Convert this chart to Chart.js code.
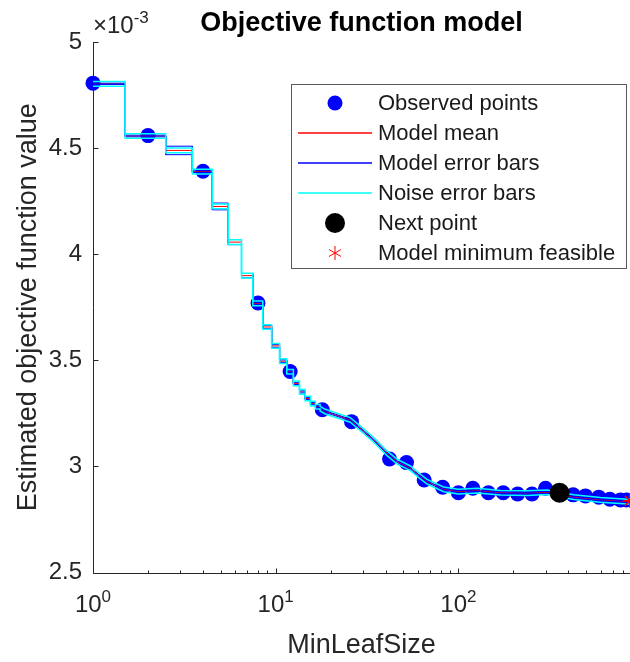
<!DOCTYPE html>
<html>
<head>
<meta charset="utf-8">
<script src="https://cdn.jsdelivr.net/npm/chart.js@4.4.1/dist/chart.umd.min.js"></script>
<style>
  html, body { margin: 0; padding: 0; background: #fff; overflow: hidden; }
  #wrap { width: 630px; height: 662px; }
</style>
</head>
<body>
<div id="wrap"><canvas id="chart"></canvas></div>
<script>
// objective values are in units of 1e-3 (see exponent label)
const yExponent = '-3';

// observed evaluations
const obsX = [1, 2, 4, 8, 12, 18, 26, 42, 52, 65, 82, 100, 120, 146, 176, 211, 253, 300, 425, 496, 587, 675, 772, 833];
const obsY = [4.806, 4.559, 4.391, 3.770, 3.447, 3.267, 3.211, 3.035, 3.018, 2.936, 2.902, 2.876, 2.897, 2.876,
              2.876, 2.870, 2.870, 2.897, 2.866, 2.861, 2.855, 2.845, 2.842, 2.842];

// model on the integer part of the range (constant on each integer)
const stepX = [1, 2, 3, 4, 5, 6, 7, 8, 9, 10, 11, 12, 13, 14, 15, 16, 17];
const stepMean = [4.803, 4.557, 4.489, 4.389, 4.225, 4.057, 3.899, 3.768, 3.657, 3.568, 3.496, 3.446, 3.391,
                  3.351, 3.320, 3.296, 3.281];
const stepModelErr = [0.003, 0.004, 0.020, 0.004, 0.016, 0.012, 0.010, 0.004, 0.008, 0.007, 0.006, 0.004,
                      0.005, 0.005, 0.005, 0.005, 0.004];

// model on the upper part of the range
const curveX = [17.5, 18.7, 25.6, 29, 34.4, 40.7, 46.1, 54.6, 61.9, 67.4, 83, 100, 127, 170, 238, 306, 428, 599, 840, 870];
const curveMean = [3.272, 3.258, 3.219, 3.180, 3.125, 3.062, 3.023, 2.991, 2.952, 2.928, 2.892, 2.881, 2.886,
                   2.876, 2.874, 2.878, 2.855, 2.842, 2.834, 2.834];
const curveModelErr = 0.004;
const noiseErr = 0.011;

const nextX = [358];
const nextY = [2.876];
const minX = [868];
const minY = [2.838];

const xMin = 1, xMax = 870;
const yMin = 2.5, yMax = 5;
const xMajorTicks = [1, 10, 100];
const xMajorLabels = ['0', '1', '2'];
const xMinorTicks = [2, 3, 4, 5, 6, 7, 8, 9, 20, 30, 40, 50, 60, 70, 80, 90, 200, 300, 400, 500, 600, 700, 800];
const yTicks = [2.5, 3, 3.5, 4, 4.5, 5];

const FONT = '"Liberation Sans", Arial, Helvetica, sans-serif';
const axisColor = '#262626';
const RED = '#ff0000', BLUE = '#0000ff', CYAN = '#00ffff', BLACK = '#000000';

// build the step + curve polylines, shifted by k * error
function modelLine(k, stepErr, curveErr) {
  const pts = [];
  stepX.forEach((n, i) => {
    const e = stepErr ? stepErr[i] : 0;
    pts.push({x: Math.max(n - 0.5, xMin), y: stepMean[i] + k * e});
    pts.push({x: n + 0.5, y: stepMean[i] + k * e});
  });
  curveX.forEach((x, i) => pts.push({x: x, y: curveMean[i] + k * (curveErr || 0)}));
  return pts;
}
const noiseStep = stepX.map(() => noiseErr);

function lineSet(label, data, color, width, order) {
  return {label, data, borderColor: color, backgroundColor: color, borderWidth: width,
          pointRadius: 0, tension: 0, order: order};
}

// lower order is drawn on top
const datasets = [
  {label: 'Observed points', data: obsX.map((x, i) => ({x, y: obsY[i]})), showLine: false,
   pointRadius: 7.5, pointBackgroundColor: BLUE, pointBorderWidth: 0, borderColor: BLUE,
   backgroundColor: BLUE, clip: false, order: 6},
  lineSet('Model mean', modelLine(0), RED, 1, 4),
  lineSet('Model error bars', modelLine(1, stepModelErr, curveModelErr), BLUE, 1, 3),
  lineSet('', modelLine(-1, stepModelErr, curveModelErr), BLUE, 1, 3),
  lineSet('Noise error bars', modelLine(1, noiseStep, noiseErr), CYAN, 1.5, 2),
  lineSet('', modelLine(-1, noiseStep, noiseErr), CYAN, 1.5, 2),
  {label: 'Next point', data: nextX.map((x, i) => ({x, y: nextY[i]})), showLine: false,
   pointRadius: 10, pointBackgroundColor: BLACK, pointBorderWidth: 0, borderColor: BLACK,
   backgroundColor: BLACK, clip: false, order: 0},
  {label: 'Model minimum feasible', data: minX.map((x, i) => ({x, y: minY[i]})), showLine: false,
   pointStyle: 'star', pointRadius: 7, pointBorderColor: RED, pointBorderWidth: 1.5,
   borderColor: RED, backgroundColor: RED, clip: false, order: 0}
];

const legendLabels = ['Observed points', 'Model mean', 'Model error bars', 'Noise error bars', 'Next point',
                      'Model minimum feasible'];
const legendKinds = ['dot', 'line', 'line', 'line', 'bigdot', 'star'];
const legendColors = [BLUE, RED, BLUE, CYAN, BLACK, RED];

function drawPower(ctx, base, exp, x, baseline, size, align) {
  ctx.font = size + 'px ' + FONT;
  const bw = ctx.measureText(base).width;
  const sSize = Math.round(size * 0.72);
  ctx.font = sSize + 'px ' + FONT;
  const ew = ctx.measureText(exp).width;
  const left = align === 'center' ? x - (bw + ew) / 2 : x;
  ctx.textAlign = 'left';
  ctx.textBaseline = 'alphabetic';
  ctx.font = size + 'px ' + FONT;
  ctx.fillText(base, left, baseline);
  ctx.font = sSize + 'px ' + FONT;
  ctx.fillText(exp, left + bw, baseline - size * 0.42);
}

const decor = {
  id: 'decor',
  beforeDatasetsDraw(chart) {
    const {ctx, chartArea: a, scales: {x, y}} = chart;
    ctx.save();
    ctx.strokeStyle = axisColor;
    ctx.lineWidth = 1;
    ctx.beginPath();
    const L = Math.round(a.left) + 0.5, B = Math.round(a.bottom) + 0.5;
    ctx.moveTo(L, a.top);
    ctx.lineTo(L, B);
    ctx.lineTo(a.right, B);
    xMajorTicks.forEach(v => {
      const p = Math.round(x.getPixelForValue(v)) + 0.5;
      ctx.moveTo(p, B); ctx.lineTo(p, B - 5);
    });
    xMinorTicks.forEach(v => {
      const p = Math.round(x.getPixelForValue(v)) + 0.5;
      ctx.moveTo(p, B); ctx.lineTo(p, B - 3);
    });
    yTicks.forEach(v => {
      const p = Math.round(y.getPixelForValue(v)) + 0.5;
      ctx.moveTo(L, p); ctx.lineTo(L + 5, p);
    });
    ctx.stroke();
    ctx.restore();
  },
  afterDraw(chart) {
    const {ctx, chartArea: a, scales: {x}} = chart;
    ctx.save();
    ctx.fillStyle = axisColor;
    // x tick labels as powers of ten
    xMajorTicks.forEach((v, i) => drawPower(ctx, '10', xMajorLabels[i], x.getPixelForValue(v), 612, 24, 'center'));
    // exponent of the y axis
    drawPower(ctx, '\u00d710', yExponent, 93, 33, 24, 'left');
    // title
    ctx.fillStyle = '#000';
    ctx.font = 'bold 27px ' + FONT;
    ctx.textAlign = 'center';
    ctx.textBaseline = 'alphabetic';
    ctx.fillText('Objective function model', (a.left + a.right) / 2, 31);

    // legend
    const bx = 291.5, by = 84.5, bw = 335, bh = 184;
    ctx.fillStyle = '#fff';
    ctx.fillRect(bx, by, bw, bh);
    ctx.strokeStyle = '#5a5a5a';
    ctx.lineWidth = 1;
    ctx.strokeRect(bx, by, bw, bh);
    legendLabels.forEach((label, r) => {
      const cy = 103 + r * 30;
      const cx = 335;
      const col = legendColors[r];
      const kind = legendKinds[r];
      if (kind === 'star') {
        ctx.strokeStyle = col;
        ctx.lineWidth = 1;
        ctx.beginPath();
        for (let k = 0; k < 3; k++) {
          const ang = Math.PI / 2 + k * Math.PI / 3;
          ctx.moveTo(cx + 7 * Math.cos(ang), cy + 7 * Math.sin(ang));
          ctx.lineTo(cx - 7 * Math.cos(ang), cy - 7 * Math.sin(ang));
        }
        ctx.stroke();
      } else if (kind === 'line') {
        ctx.strokeStyle = col;
        ctx.lineWidth = 1.5;
        ctx.beginPath();
        ctx.moveTo(298, cy);
        ctx.lineTo(372, cy);
        ctx.stroke();
      } else {
        ctx.fillStyle = col;
        ctx.beginPath();
        ctx.arc(cx, cy, kind === 'dot' ? 7.5 : 10, 0, Math.PI * 2);
        ctx.fill();
      }
      ctx.fillStyle = '#1a1a1a';
      ctx.font = '22px ' + FONT;
      ctx.textAlign = 'left';
      ctx.textBaseline = 'middle';
      ctx.fillText(label, 378, cy + 1);
    });
    ctx.restore();
  }
};

Chart.defaults.font.family = FONT;
Chart.defaults.color = axisColor;

new Chart(document.getElementById('chart'), {
  type: 'line',
  data: {datasets: datasets},
  plugins: [decor],
  options: {
    responsive: true,
    maintainAspectRatio: false,
    animation: false,
    events: [],
    layout: {autoPadding: false, padding: {top: 42, right: 0, bottom: 0, left: 0}},
    plugins: {legend: {display: false}, tooltip: {enabled: false}, title: {display: false}},
    scales: {
      x: {
        type: 'logarithmic',
        min: xMin,
        max: xMax,
        grid: {display: false, drawTicks: false},
        border: {display: false},
        ticks: {display: false},
        title: {display: true, text: 'MinLeafSize', font: {size: 27}, color: axisColor,
                padding: {top: 0, bottom: 0}},
        afterFit(s) { s.height = 89.5; }
      },
      y: {
        type: 'linear',
        min: yMin,
        max: yMax,
        grid: {display: false, drawTicks: false},
        border: {display: false},
        afterBuildTicks(s) { s.ticks = yTicks.map(v => ({value: v})); },
        ticks: {font: {size: 24}, color: axisColor, padding: 11, callback: v => String(v)},
        title: {display: true, text: 'Estimated objective function value', font: {size: 27},
                color: axisColor, padding: {top: 12, bottom: 0}},
        afterFit(s) { s.width = 93; }
      }
    }
  }
});
</script>
</body>
</html>
